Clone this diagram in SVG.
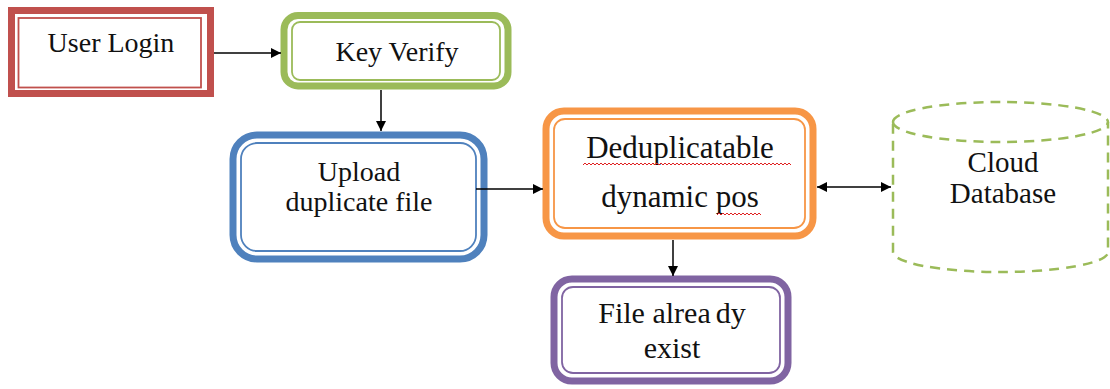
<svg xmlns="http://www.w3.org/2000/svg" width="1110" height="389" viewBox="0 0 1110 389">
<defs>
<marker id="ah" viewBox="0 0 10 10" refX="10" refY="5" markerWidth="10" markerHeight="10" markerUnits="userSpaceOnUse" orient="auto-start-reverse">
<path d="M0,0 L10,5 L0,10 z" fill="#000"/>
</marker>
<style>
.t{font-family:"Liberation Serif","Times New Roman",serif;fill:#111;text-anchor:middle}
.thick{fill:#fff;stroke-width:7}
.thin{fill:none;stroke-width:1.8}
.c{stroke:#000;stroke-width:1.5;fill:none;marker-end:url(#ah)}
.wavy{fill:none;stroke:#e02020;stroke-width:1}
</style>
</defs>
<rect width="1110" height="389" fill="#fff"/>
<g id="user-login">
<rect class="thick" x="11.5" y="10.5" width="199" height="83" stroke="#C0504D" stroke-width="7"/>
<rect class="thin" x="18.5" y="18" width="182.5" height="69.5" stroke="#C0504D"/>
<text class="t" x="111" y="52" font-size="28">User Login</text>
</g>
<g id="key-verify">
<rect class="thick" x="284" y="15.5" width="224" height="70.5" rx="14" stroke="#9BBB59"/>
<rect class="thin" x="292" y="22" width="208" height="58" rx="8" stroke="#9BBB59"/>
<text class="t" x="397" y="61" font-size="28">Key Verify</text>
</g>
<g id="upload">
<rect class="thick" x="233" y="135" width="251" height="124" rx="24" stroke="#4F81BD"/>
<rect class="thin" x="241" y="143" width="235" height="108" rx="16" stroke="#4F81BD"/>
<text class="t" x="359" y="181" font-size="28">Upload</text>
<text class="t" x="359" y="211" font-size="28">duplicate file</text>
</g>
<g id="dedup">
<rect class="thick" x="546" y="111" width="267" height="125" rx="18" stroke="#F79646"/>
<rect class="thin" x="554" y="119" width="251" height="109" rx="11" stroke="#F79646"/>
<text class="t" x="680" y="158" font-size="31">Deduplicatable</text>
<text class="t" x="680" y="207" font-size="31">dynamic pos</text>
<path class="wavy" d="M583,165 l2,-2 l2,2 l2,-2 l2,2 l2,-2 l2,2 l2,-2 l2,2 l2,-2 l2,2 l2,-2 l2,2 l2,-2 l2,2 l2,-2 l2,2 l2,-2 l2,2 l2,-2 l2,2 l2,-2 l2,2 l2,-2 l2,2 l2,-2 l2,2 l2,-2 l2,2 l2,-2 l2,2 l2,-2 l2,2 l2,-2 l2,2 l2,-2 l2,2 l2,-2 l2,2 l2,-2 l2,2 l2,-2 l2,2 l2,-2 l2,2 l2,-2 l2,2 l2,-2 l2,2 l2,-2 l2,2 l2,-2 l2,2 l2,-2 l2,2 l2,-2 l2,2 l2,-2 l2,2 l2,-2 l2,2 l2,-2 l2,2 l2,-2 l2,2 l2,-2 l2,2 l2,-2 l2,2 l2,-2 l2,2 l2,-2 l2,2 l2,-2 l2,2 l2,-2 l2,2 l2,-2 l2,2 l2,-2 l2,2 l2,-2 l2,2 l2,-2 l2,2 l2,-2 l2,2 l2,-2 l2,2 l2,-2 l2,2 l2,-2 l2,2 l2,-2 l2,2 l2,-2 l2,2 l2,-2 l2,2 l2,-2 l2,2 l2,-2 l2,2 l2,-2 l2,2"/>
<path class="wavy" d="M717,215 l2,-2 l2,2 l2,-2 l2,2 l2,-2 l2,2 l2,-2 l2,2 l2,-2 l2,2 l2,-2 l2,2 l2,-2 l2,2 l2,-2 l2,2 l2,-2 l2,2 l2,-2 l2,2 l2,-2 l2,2"/>
</g>
<g id="cloud-db">
<path d="M893,122 A107.5,20 0 0 1 1108,122 L1108,252 A107.5,20 0 0 1 893,252 Z" fill="#fff" stroke="#9BBB59" stroke-width="2.5" stroke-dasharray="10 7"/>
<path d="M893,122 A107.5,20 0 0 0 1108,122" fill="none" stroke="#9BBB59" stroke-width="2.5" stroke-dasharray="10 7"/>
<text class="t" x="1003" y="172" font-size="29">Cloud</text>
<text class="t" x="1003" y="203" font-size="29">Database</text>
</g>
<g id="file-exist">
<rect class="thick" x="554" y="279" width="234" height="102" rx="18" stroke="#8064A2"/>
<rect class="thin" x="562" y="287" width="218" height="86" rx="11" stroke="#8064A2"/>
<text class="t" x="672" y="323" font-size="30">File alrea<tspan dx="5">dy</tspan></text>
<text class="t" x="672" y="358" font-size="30">exist</text>
</g>
<g id="connectors">
<line class="c" x1="214" y1="53" x2="281" y2="53"/>
<line class="c" x1="381" y1="90" x2="381" y2="131"/>
<line class="c" x1="476" y1="189" x2="543" y2="189"/>
<line class="c" x1="817" y1="187" x2="891" y2="187" marker-start="url(#ah)"/>
<line class="c" x1="673" y1="240" x2="673" y2="276"/>
</g>
</svg>
